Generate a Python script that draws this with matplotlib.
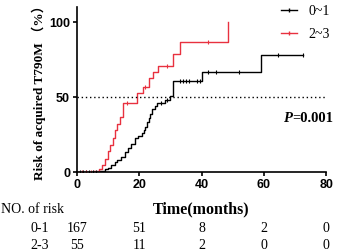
import numpy as np
import matplotlib
matplotlib.use("Agg")
import matplotlib.pyplot as plt
from matplotlib.lines import Line2D
from matplotlib.transforms import blended_transform_factory

# step curves (months, cumulative risk %)
t_low = [0, 7, 8, 9, 10, 11, 12.3, 13, 14, 15.5, 16.5, 17.5, 18.7, 19.5, 20.9, 21.5, 22, 22.5,
         23, 23.5, 24.2, 25, 25.7, 28.4, 30, 30.9, 40.2, 59, 72.5]
r_low = [0, 0.5, 1, 2, 3, 5, 7, 8, 10, 13.5, 16, 19, 23, 24, 26, 28, 30, 33.5,
         36, 39, 42, 44, 46, 48, 51, 61, 67, 78, 78]
t_high = [0, 5, 7, 8, 9, 10, 10.6, 11.5, 12.3, 13, 13.9, 14.7, 19.2, 21.3, 23, 24.4, 26,
          30.9, 33, 48.4]
r_high = [0, 1, 2, 5, 9, 14, 18, 23, 28, 32, 37, 46, 53, 57, 63, 67, 71,
          79, 87, 100]

# censor marks
cens_low_t = [1, 2, 3, 4, 5, 6, 27, 29, 33, 34, 35, 36, 38.5, 39.5, 42, 44.5, 52, 64.4, 72.5]
cens_high_t = [1.5, 3, 4.5, 16, 22, 29, 42]

risk_t = [0, 20, 40, 60, 80]
risk_low = [167, 51, 8, 2, 0]
risk_high = [55, 11, 2, 0, 0]
groups = ["0~1", "2~3"]
rows = ["0-1", "2-3"]


def step_at(t, tt, rr):
    i = np.searchsorted(tt, t, side="right") - 1
    return rr[i]


serif = "Liberation Serif"
sans = "Liberation Sans"
red = "#e8313f"

fig = plt.figure(figsize=(3.39, 2.52), dpi=100)
ax = fig.add_axes([0.227, 0.317, 0.735, 0.655])

ax.step(t_low, r_low, where="post", color="black", lw=1)
ax.step(t_high, r_high, where="post", color=red, lw=1)
ax.plot(cens_low_t, [step_at(t, t_low, r_low) for t in cens_low_t], ls="none",
        marker="|", ms=3, mew=0.8, color="black")
ax.plot(cens_high_t, [step_at(t, t_high, r_high) for t in cens_high_t], ls="none",
        marker="|", ms=3, mew=0.8, color=red)

ax.axhline(50, color="black", ls=(0, (1, 2)), lw=1)

ax.set_xlim(0, 80)
ax.set_ylim(0, 110)
ax.set_xticks([0, 20, 40, 60, 80])
ax.set_yticks([0, 50, 100])
for s in ["top", "right"]:
    ax.spines[s].set_visible(False)
for s in ["left", "bottom"]:
    ax.spines[s].set_linewidth(1.2)
ax.tick_params(direction="out", length=3, width=1.2, pad=2)
for lab in ax.get_xticklabels() + ax.get_yticklabels():
    lab.set_fontfamily(sans)
    lab.set_fontweight("bold")
    lab.set_fontsize(9)

ax.set_ylabel("Risk of acquired T790M （%）", fontfamily=[serif, "Noto Sans CJK SC"],
              fontweight="bold", fontsize=9.5, labelpad=2)

# legend
handles = [Line2D([], [], color="black", lw=1, marker="|", ms=3),
           Line2D([], [], color=red, lw=1, marker="|", ms=3)]
fig.legend(handles, groups, loc="upper right", bbox_to_anchor=(1.01, 1.03), frameon=False,
           handlelength=1.2, labelspacing=0.7, handletextpad=0.8, numpoints=1,
           prop={"family": serif, "size": 10})

# p value
pt = ax.text(0.982, 0.53, "=0.001", transform=fig.transFigure, ha="right", va="center",
             fontfamily=serif, fontweight="bold", fontsize=10.5)
ax.annotate("P", xy=(0, 0.5), xycoords=pt, ha="right", va="center",
            fontfamily=serif, fontweight="bold", fontstyle="italic", fontsize=10.5)

# number at risk table
tr = blended_transform_factory(ax.transData, fig.transFigure)
fig.text(0.003, 0.17, "NO. of risk", fontfamily=serif, fontsize=10, va="center")
ax.text(40, 0.17, "Time(months)", transform=tr, ha="center", va="center",
        fontfamily=serif, fontweight="bold", fontsize=11.5, clip_on=False)
for yy, name, vals in [(0.095, rows[0], risk_low), (0.025, rows[1], risk_high)]:
    fig.text(0.145, yy, name, fontfamily=serif, fontsize=10, va="center", ha="right")
    for t, v in zip(risk_t, vals):
        ax.text(t, yy, str(v), transform=tr, ha="center", va="center",
                fontfamily=serif, fontsize=10, clip_on=False)

fig.savefig("out.png", dpi=100)
